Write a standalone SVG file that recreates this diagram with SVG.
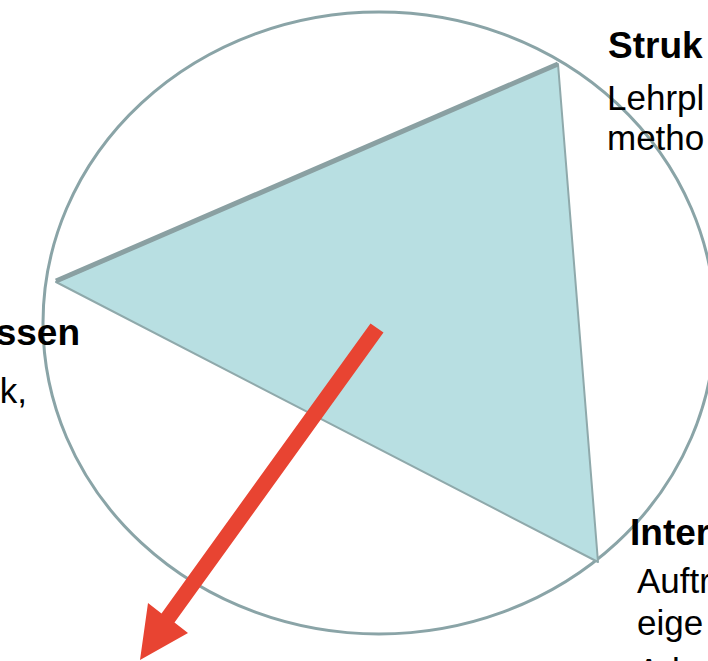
<svg xmlns="http://www.w3.org/2000/svg" width="708" height="661" viewBox="0 0 708 661">
<style>
.h{font-family:"Liberation Sans",Arial,sans-serif;font-size:37px;font-weight:bold;fill:#000}
.t{font-family:"Liberation Sans",Arial,sans-serif;font-size:35px;fill:#000}
</style>
<rect width="708" height="661" fill="#fff"/>
<g id="circle">
<ellipse cx="379" cy="323" rx="336" ry="311" fill="none" stroke="#8aa4a7" stroke-width="3"/>
</g>
<g id="triangle">
<polygon points="56,282 558,64 598,562" fill="#b8dfe2" stroke="#8fa9ab" stroke-width="2" stroke-linejoin="round"/>
<line x1="56" y1="281" x2="558" y2="64" stroke="#8aa0a2" stroke-width="5"/>
</g>
<g id="label-top">
<text class="h" x="608" y="58">Struk</text>
<text class="t" x="607" y="110">Lehrpl</text>
<text class="t" x="607" y="150">metho</text>
</g>
<g id="label-left">
<text class="h" x="80" y="345" text-anchor="end">ssen</text>
<text class="t" x="27" y="403" text-anchor="end">k,</text>
</g>
<g id="label-bottom">
<text class="h" x="630" y="545">Inter</text>
<text class="t" x="637" y="593">Auftr</text>
<text class="t" x="637" y="635">eige</text>
<text class="t" x="637" y="683">Arb</text>
</g>
<g id="connectors">
<polygon points="370.5,323.4 383.5,332.6 174.5,622.6 188,633 140,660 148,603 161.5,613.4" fill="#e84432"/>
</g>
</svg>
